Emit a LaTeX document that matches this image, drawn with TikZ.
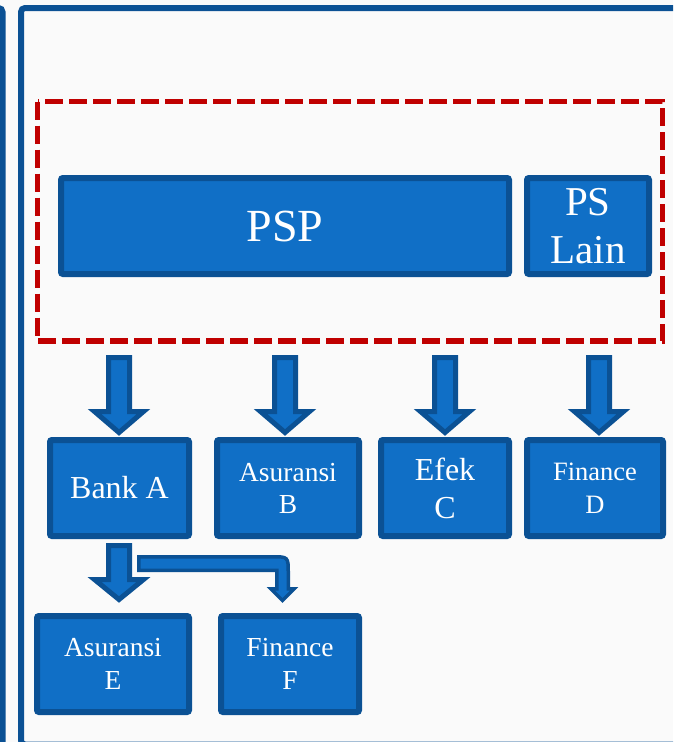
\documentclass[tikz,border=0pt]{standalone}
\usepackage{fontspec}
\setmainfont{Liberation Serif}
\usetikzlibrary{calc}
\definecolor{boxfill}{RGB}{16,111,198}
\definecolor{boxline}{RGB}{11,81,148}
\definecolor{dashred}{RGB}{192,0,0}
\definecolor{bgcol}{RGB}{250,250,250}
\newcommand\bigdown[5]{% #1 node, #2 x shift (pt), #3 top y, #4 head base y, #5 tip y (user coords)
  \filldraw[blockarr] let \p1=(#1.north) in
    (\x1+#2pt-10.5pt,-#3pt) -- (\x1+#2pt+10.5pt,-#3pt) -- (\x1+#2pt+10.5pt,-#4pt) --
    (\x1+#2pt+24.5pt,-#4pt) -- (\x1+#2pt,-#5pt) -- (\x1+#2pt-24.5pt,-#4pt) --
    (\x1+#2pt-10.5pt,-#4pt) -- cycle;}
\begin{document}
\begin{tikzpicture}[x=1pt,y=-1pt,
  box/.style={draw=boxline, fill=boxfill, line width=6pt, rounded corners=2pt,
    inner sep=0pt, align=center, text=white},
  blockarr/.style={draw=boxline, fill=boxfill, line width=5pt, miter limit=10},
  bentarr/.style={draw=boxline, fill=boxfill, line width=3.5pt, miter limit=10},
  framebar/.style={draw=boxline, line width=6pt},
  groupbox/.style={draw=dashred, line width=5.5pt, dash pattern=on 18pt off 6pt}]
\fill[bgcol] (0,0) rectangle (673,742);
\useasboundingbox (0,0) rectangle (673,742);
\clip (0,0) rectangle (673,742);

% frames
\draw[framebar, rounded corners=4pt] (-20,8) -- (2.5,8) -- (2.5,760);
\draw[framebar, rounded corners=4pt] (21,8) rectangle (720,744.5);

% dashed group
\draw[groupbox] (37.5,101.5) rectangle (662.5,341);

% top row
\node[box, minimum width=448pt, minimum height=96pt, font=\fontsize{46}{50}\selectfont]
  (psp) at (285,226) {PSP};
\node[box, minimum width=122pt, minimum height=96pt, font=\fontsize{41}{48}\selectfont]
  (pslain) at (588,226) {PS\\Lain};

% second row
\node[box, minimum width=139pt, minimum height=96pt, font=\fontsize{32}{36}\selectfont]
  (bankA) at (119.5,488) {Bank A};
\node[box, minimum width=142pt, minimum height=96pt, font=\fontsize{27.5}{32}\selectfont]
  (asB) at (288,488) {Asuransi\\B};
\node[box, minimum width=128pt, minimum height=96pt, font=\fontsize{32}{38}\selectfont]
  (efC) at (445,488) {Efek\\C};
\node[box, minimum width=136pt, minimum height=96pt, font=\fontsize{26.5}{33}\selectfont]
  (finD) at (595,488) {Finance\\D};

% third row
\node[box, minimum width=152pt, minimum height=96pt, font=\fontsize{27.5}{33}\selectfont]
  (asE) at (113,664) {Asuransi\\E};
\node[box, minimum width=138pt, minimum height=96pt, font=\fontsize{27.5}{33}\selectfont]
  (finF) at (290,664) {Finance\\F};

% block arrows from the group to the second row
\bigdown{bankA}{-0.5}{357.5}{411.5}{432.5}
\bigdown{asB}{-3}{357.5}{411.5}{432.5}
\bigdown{efC}{0}{357.5}{411.5}{432.5}
\bigdown{finD}{4}{357.5}{411.5}{432.5}

% Bank A to Asuransi E
\bigdown{bankA}{-0.5}{545.5}{579.5}{599.5}

% bent arrow Bank A to Finance F
\coordinate (bentstart) at (138.75,563.5);
\filldraw[bentarr] (bentstart |- 0,556.75) -- (272,556.75)
  .. controls (288.25,556.75) .. (288.25,573) -- (288.25,588.75) -- (294.25,588.75)
  -- (282.5,600.5) -- (270.75,588.75) -- (276.75,588.75) -- (276.75,570.25)
  -- (bentstart |- 0,570.25) -- cycle;
\end{tikzpicture}
\end{document}
